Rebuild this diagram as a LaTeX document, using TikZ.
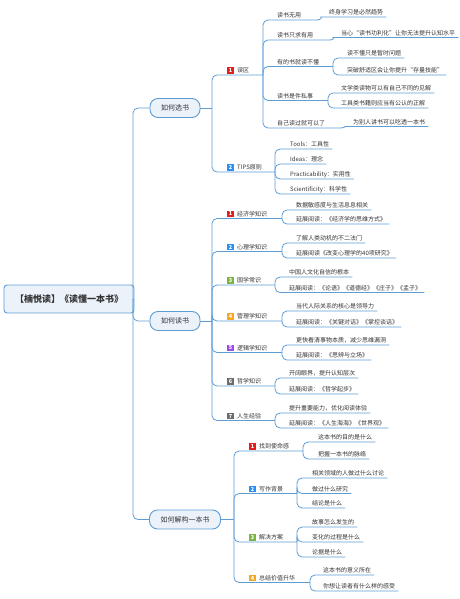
\documentclass[tikz,border=0pt]{standalone}
\usepackage{fontspec}
\newfontfamily\cjk{Noto Sans CJK SC}
\definecolor{linkblue}{HTML}{5E9CD6}
\definecolor{boxfill}{HTML}{EBF2FA}
\definecolor{txt}{HTML}{333333}
\definecolor{nred}{HTML}{E0201B}
\definecolor{nblue}{HTML}{2D8EF3}
\definecolor{ngreen}{HTML}{7CB342}
\definecolor{norange}{HTML}{F6A823}
\definecolor{npurple}{HTML}{9B4DEA}
\definecolor{ngray}{HTML}{6D6D6D}

\begin{document}
\begin{tikzpicture}[x=1pt,y=-1pt]

\tikzstyle{link}=[draw=linkblue, line width=0.8pt, rounded corners=5pt]
\tikzstyle{topic}=[rectangle, rounded corners=8pt, draw=linkblue, line width=0.9pt, fill=boxfill, text=txt, minimum height=19pt, inner xsep=11pt, font=\cjk\fontsize{7}{8}\selectfont]
\tikzstyle{central}=[topic, rounded corners=3pt, minimum width=124pt, minimum height=28pt, font=\cjk\bfseries\fontsize{9}{10}\selectfont]
\tikzstyle{lbl}=[anchor=south west, inner xsep=3pt, inner ysep=1.5pt, text height=5.3pt, text depth=0.7pt, text=txt, font=\cjk\fontsize{6}{7}\selectfont]
\tikzstyle{badge}=[rectangle, minimum size=6.5pt, inner sep=0pt, text=white, font=\cjk\bfseries\fontsize{5.5}{6}\selectfont]

\useasboundingbox (0,0) rectangle (459,599);

%root
\node[central] (root) at (69,299) {【楠悦读】《读懂一本书》};
\coordinate (trunk) at (133,299);

%main topics
\node[topic] (xuanshu) at (175,108) {如何选书};
\node[topic] (dushu) at (175,321) {如何读书};
\node[topic] (jiegou) at (185,519.5) {如何解构一本书};
\coordinate (xuanshu-j) at (212,108);
\coordinate (dushu-j) at (212,321);
\coordinate (jiegou-j) at (234,519.5);

\draw[link] (root.east) -- (trunk);
\draw[link] (trunk) |- (xuanshu);
\draw[link] (trunk) |- (dushu);
\draw[link] (trunk) |- (jiegou);
\draw[link] (xuanshu.east) -- (xuanshu-j);
\draw[link] (dushu.east) -- (dushu-j);
\draw[link] (jiegou.east) -- (jiegou-j);

%how to choose
\node[badge, fill=nred] (wuqu-n) at (230.5,70.5) {1};
\node[lbl] (wuqu) at (234,75) {误区};
\coordinate (wuqu-j) at (263,75);
\node[badge, fill=nblue] (tips-n) at (230.5,167.5) {2};
\node[lbl] (tips) at (234,172) {TIPS原则};
\coordinate (tips-j) at (275,172);

\draw[link] (xuanshu-j) |- (wuqu-j);
\draw[link] (xuanshu-j) |- (tips-j);

\node[lbl] (w1) at (274,20) {读书无用};
\coordinate (w1-j) at (317,20);
\node[lbl] (w1a) at (326,17) {终身学习是必然趋势};
\node[lbl] (w2) at (274,40) {读书只求有用};
\coordinate (w2-j) at (330,40);
\node[lbl] (w2a) at (338,37.5) {当心“读书功利化”让你无法提升认知水平};
\node[lbl] (w3) at (274,66.5) {有的书就读不懂};
\coordinate (w3-j) at (333,66.5);
\node[lbl] (w3a) at (344,58) {读不懂只是暂时问题};
\node[lbl] (w3b) at (344,75) {突破舒适区会让你提升“存量技能”};
\node[lbl] (w4) at (274,100.5) {读书是件私事};
\coordinate (w4-j) at (328,100.5);
\node[lbl] (w4a) at (338,93) {文学类读物可以有自己不同的见解};
\node[lbl] (w4b) at (338,108) {工具类书籍则应当有公认的正解};
\node[lbl] (w5) at (274,128) {自己读过就可以了};
\coordinate (w5-j) at (340,128);
\node[lbl] (w5a) at (350,126.5) {为别人讲书可以吃透一本书};

\draw[link] (wuqu-j) |- (w1-j);
\draw[link] (wuqu-j) |- (w2-j);
\draw[link] (wuqu-j) |- (w3-j);
\draw[link] (wuqu-j) |- (w4-j);
\draw[link] (wuqu-j) |- (w5-j);
\draw[link] (w1-j) to[out=0,in=180] (w1a.south west) -- (w1a.south east);
\draw[link] (w2-j) to[out=0,in=180] (w2a.south west) -- (w2a.south east);
\draw[link] (w3-j) |- (w3a.south east);
\draw[link] (w3-j) |- (w3b.south east);
\draw[link] (w4-j) |- (w4a.south east);
\draw[link] (w4-j) |- (w4b.south east);
\draw[link] (w5-j) to[out=0,in=180] (w5a.south west) -- (w5a.south east);

\node[lbl] (t1) at (287,149) {Tools：工具性};
\node[lbl] (t2) at (287,164) {Ideas：理念};
\node[lbl] (t3) at (287,179) {Practicability：实用性};
\node[lbl] (t4) at (287,194) {Scientificity：科学性};

\draw[link] (tips-j) |- (t1.south east);
\draw[link] (tips-j) |- (t2.south east);
\draw[link] (tips-j) |- (t3.south east);
\draw[link] (tips-j) |- (t4.south east);

%how to read
\node[badge, fill=nred] (jj-n) at (230.5,214) {1};
\node[lbl] (jj) at (234,218.5) {经济学知识};
\coordinate (jj-j) at (282,218.5);
\node[badge, fill=nblue] (xl-n) at (230.5,247) {2};
\node[lbl] (xl) at (234,251.5) {心理学知识};
\coordinate (xl-j) at (282,251.5);
\node[badge, fill=ngreen] (gx-n) at (230.5,280.5) {3};
\node[lbl] (gx) at (234,285) {国学常识};
\coordinate (gx-j) at (275,285);
\node[badge, fill=norange] (gl-n) at (230.5,316.5) {4};
\node[lbl] (gl) at (234,321) {管理学知识};
\coordinate (gl-j) at (282,321);
\node[badge, fill=npurple] (lj-n) at (230.5,348) {5};
\node[lbl] (lj) at (234,352.5) {逻辑学知识};
\coordinate (lj-j) at (282,352.5);
\node[badge, fill=ngray] (zx-n) at (230.5,381.5) {6};
\node[lbl] (zx) at (234,386) {哲学知识};
\coordinate (zx-j) at (275,386);
\node[badge, fill=ngray] (rs-n) at (230.5,416) {7};
\node[lbl] (rs) at (234,420.5) {人生经验};
\coordinate (rs-j) at (275,420.5);

\draw[link] (dushu-j) |- (jj-j);
\draw[link] (dushu-j) |- (xl-j);
\draw[link] (dushu-j) |- (gx-j);
\draw[link] (dushu-j) |- (gl-j);
\draw[link] (dushu-j) |- (lj-j);
\draw[link] (dushu-j) |- (zx-j);
\draw[link] (dushu-j) |- (rs-j);

\node[lbl] (jj1) at (293,210) {数据敏感度与生活息息相关};
\node[lbl] (jj2) at (293,224) {延展阅读：《经济学的思维方式》};
\node[lbl] (xl1) at (293,243) {了解人类动机的不二法门};
\node[lbl] (xl2) at (293,258) {延展阅读《改变心理学的40项研究》};
\node[lbl] (gx1) at (286,277) {中国人文化自信的根本};
\node[lbl] (gx2) at (286,292.5) {延展阅读：《论语》《道德经》《庄子》《孟子》};
\node[lbl] (gl1) at (293,311) {当代人际关系的核心是领导力};
\node[lbl] (gl2) at (293,327) {延展阅读：《关键对话》《掌控谈话》};
\node[lbl] (lj1) at (293,345) {更快看清事物本质，减少思维漏洞};
\node[lbl] (lj2) at (293,360) {延展阅读：《思辨与立场》};
\node[lbl] (zx1) at (286,378) {开阔眼界，提升认知层次};
\node[lbl] (zx2) at (286,394) {延展阅读：《哲学起步》};
\node[lbl] (rs1) at (286,413) {提升重要能力，优化阅读体验};
\node[lbl] (rs2) at (286,428) {延展阅读：《人生海海》《世界观》};

\draw[link] (jj-j) |- (jj1.south east);
\draw[link] (jj-j) |- (jj2.south east);
\draw[link] (xl-j) |- (xl1.south east);
\draw[link] (xl-j) |- (xl2.south east);
\draw[link] (gx-j) |- (gx1.south east);
\draw[link] (gx-j) |- (gx2.south east);
\draw[link] (gl-j) |- (gl1.south east);
\draw[link] (gl-j) |- (gl2.south east);
\draw[link] (lj-j) |- (lj1.south east);
\draw[link] (lj-j) |- (lj2.south east);
\draw[link] (zx-j) |- (zx1.south east);
\draw[link] (zx-j) |- (zx2.south east);
\draw[link] (rs-j) |- (rs1.south east);
\draw[link] (rs-j) |- (rs2.south east);

%how to take a book apart
\node[badge, fill=nred] (sm-n) at (252.5,446.5) {1};
\node[lbl] (sm) at (256,451) {找到使命感};
\coordinate (sm-j) at (303,451);
\node[badge, fill=nblue] (bj-n) at (252.5,489) {2};
\node[lbl] (bj) at (256,493.5) {写作背景};
\coordinate (bj-j) at (297,493.5);
\node[badge, fill=ngreen] (fa-n) at (252.5,537.5) {3};
\node[lbl] (fa) at (256,542) {解决方案};
\coordinate (fa-j) at (297,542);
\node[badge, fill=norange] (zj-n) at (252.5,578) {4};
\node[lbl] (zj) at (256,582.5) {总结价值升华};
\coordinate (zj-j) at (310,582.5);

\draw[link] (jiegou-j) |- (sm-j);
\draw[link] (jiegou-j) |- (bj-j);
\draw[link] (jiegou-j) |- (fa-j);
\draw[link] (jiegou-j) |- (zj-j);

\node[lbl] (sm1) at (315,442) {这本书的目的是什么};
\node[lbl] (sm2) at (315,459) {把握一本书的脉络};
\node[lbl] (bj1) at (309,478) {相关领域的人做过什么讨论};
\node[lbl] (bj2) at (309,493.5) {做过什么研究};
\node[lbl] (bj3) at (309,508) {结论是什么};
\node[lbl] (fa1) at (309,527) {故事怎么发生的};
\node[lbl] (fa2) at (309,542) {变化的过程是什么};
\node[lbl] (fa3) at (309,557) {论据是什么};
\node[lbl] (zj1) at (320,575) {这本书的意义所在};
\node[lbl] (zj2) at (320,591) {你想让读者有什么样的感受};

\draw[link] (sm-j) |- (sm1.south east);
\draw[link] (sm-j) |- (sm2.south east);
\draw[link] (bj-j) |- (bj1.south east);
\draw[link] (bj-j) |- (bj2.south east);
\draw[link] (bj-j) |- (bj3.south east);
\draw[link] (fa-j) |- (fa1.south east);
\draw[link] (fa-j) |- (fa2.south east);
\draw[link] (fa-j) |- (fa3.south east);
\draw[link] (zj-j) |- (zj1.south east);
\draw[link] (zj-j) |- (zj2.south east);

\end{tikzpicture}
\end{document}
